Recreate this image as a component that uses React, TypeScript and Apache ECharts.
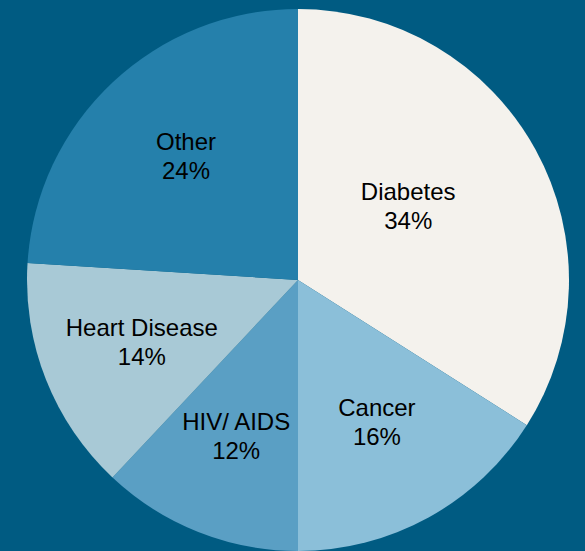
import React, { useEffect, useRef } from "react";
import * as echarts from "echarts";

const categories = ["Diabetes", "Cancer", "HIV/ AIDS", "Heart Disease", "Other"];
const values = [34, 16, 12, 14, 24];
const colors = ["#f4f2ed", "#8bbfd9", "#5a9fc4", "#a8c9d6", "#2580ab"];

export default function App() {
  const ref = useRef<HTMLDivElement>(null);
  useEffect(() => {
    document.body.style.margin = "0";
    const chart = echarts.init(ref.current!, null, { renderer: "svg" });
    const data = categories.map((name, i) => ({ name, value: values[i] }));
    chart.setOption({
      animation: false,
      backgroundColor: "#005b82",
      series: [
        {
          type: "pie",
          center: [298, 280],
          radius: [0, 271],
          startAngle: 90,
          clockwise: true,
          silent: true,
          data: data.map((d, i) => ({ ...d, itemStyle: { color: colors[i] } })),
          label: { show: false },
          labelLine: { show: false },
        },
        {
          type: "pie",
          center: [298, 280],
          radius: [59, 271],
          startAngle: 90,
          clockwise: true,
          silent: true,
          data,
          itemStyle: { color: "transparent" },
          label: {
            show: true,
            position: "inside",
            formatter: "{b}\n{d}%",
            color: "#000",
            fontFamily: "Liberation Sans, Arial, sans-serif",
            fontSize: 24,
            lineHeight: 29,
            align: "center",
          },
          labelLine: { show: false },
          labelLayout: (p: any) =>
            p.dataIndex === 0
              ? { dx: -37, dy: 7 }
              : p.dataIndex === 1
              ? { dx: -2, dy: -5 }
              : p.dataIndex === 4
              ? { dx: 3, dy: -2 }
              : {},
        },
      ],
    });
    return () => chart.dispose();
  }, []);
  return <div ref={ref} style={{ width: 585, height: 551 }} />;
}
